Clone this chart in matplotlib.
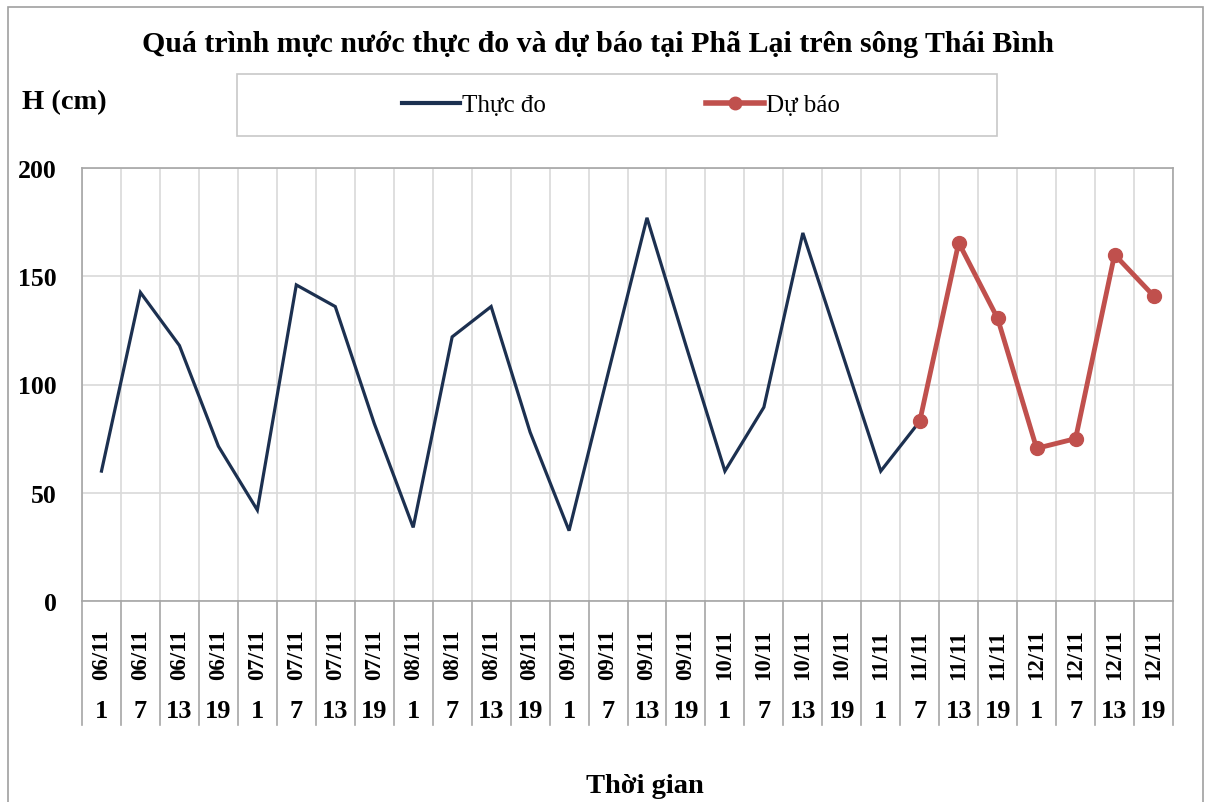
import numpy as np
import matplotlib.pyplot as plt
from matplotlib.patches import Rectangle
from matplotlib.lines import Line2D
import matplotlib.transforms as mtransforms

plt.rcParams['font.family'] = ['Liberation Serif', 'DejaVu Serif']

days = ['06/11', '07/11', '08/11', '09/11', '10/11', '11/11', '12/11']
hours = ['1', '7', '13', '19']
date_labels = [d for d in days for h in hours]
hour_labels = [h for d in days for h in hours]

# water level, cm
observed = [60, 142.5, 118, 71.5, 42, 146, 136, 82, 34, 122, 136, 78,
            32.5, 105, 177, 118, 60, 89.5, 170, 115, 60, 83]
forecast = [83, 165.5, 130.5, 70.5, 75, 160, 141]
fc_start = len(observed) - 1

W, H = 1212, 803
fig = plt.figure(figsize=(W / 100, H / 100), dpi=100)

# chart area border
fig.patches.append(Rectangle((8 / W, -0.01), 1195 / W, 1 - 8 / H + 0.01,
                             transform=fig.transFigure, fill=False,
                             edgecolor='#a0a0a0', lw=1.2))

L, R, T, B = 82, 1173, 169, 602
ax = fig.add_axes([L / W, 1 - B / H, (R - L) / W, (B - T) / H])

x_obs = np.arange(len(observed))
x_fc = np.arange(fc_start, fc_start + len(forecast))
ax.plot(x_obs, observed, color='#1c3050', lw=2.3, solid_joinstyle='miter')
ax.plot(x_fc, forecast, color='#c0504d', lw=3.5, marker='o', ms=10)

n = len(date_labels)
ax.set_xlim(-0.5, n - 0.5)
ax.set_ylim(0, 200)
ax.set_yticks([0, 50, 100, 150, 200])
ax.set_xticks(np.arange(n + 1) - 0.5)
ax.set_xticklabels([])
ax.grid(True, color='#d9d9d9', lw=1.2)
ax.set_axisbelow(True)
ax.tick_params(axis='x', length=0)
ax.tick_params(axis='y', length=0, pad=18, labelsize=18.5)
for lab in ax.get_yticklabels():
    lab.set_fontweight('bold')
for s in ax.spines.values():
    s.set_color('#a6a6a6')
    s.set_linewidth(1.2)

# two level category labels
trans = mtransforms.blended_transform_factory(ax.transData, fig.transFigure)
for i in range(n):
    ax.text(i, 1 - 655 / H, date_labels[i], transform=trans, rotation=90,
            ha='center', va='center', fontsize=16.5, fontweight='bold')
    ax.text(i, 1 - 712 / H, hour_labels[i], transform=trans,
            ha='center', va='center', fontsize=19, fontweight='bold')
for i in range(n + 1):
    fig.add_artist(Line2D([i - 0.5, i - 0.5], [1 - B / H, 1 - 726 / H],
                          transform=trans, color='#a6a6a6', lw=1.2))

fig.text(598 / W, 1 - 45 / H,
         'Quá trình mực nước thực đo và dự báo tại Phã Lại trên sông Thái Bình',
         ha='center', va='center', fontsize=21.5, fontweight='bold')
fig.text(22 / W, 1 - 103 / H, 'H (cm)', ha='left', va='center',
         fontsize=20.5, fontweight='bold')
fig.text(645 / W, 1 - 787 / H, 'Thời gian', ha='center', va='center',
         fontsize=20.5, fontweight='bold')

# legend box
fig.patches.append(Rectangle((237 / W, 1 - 137 / H), 760 / W, 62 / H,
                             transform=fig.transFigure, fill=False,
                             edgecolor='#c8c8c8', lw=1.2))
handles = [Line2D([], [], color='#1c3050', lw=3),
           Line2D([], [], color='#c0504d', lw=4, marker='o', ms=9)]
fig.legend(handles, ['Thực đo', 'Dự báo'], loc='center',
           bbox_to_anchor=(621 / W, 1 - 106 / H), ncol=2, frameon=False,
           fontsize=18, handlelength=2.3, handletextpad=0.1,
           columnspacing=6.4)

fig.savefig('out.png', dpi=100)
